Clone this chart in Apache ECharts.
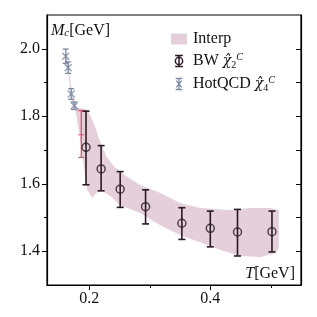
<!DOCTYPE html>
<html><head><meta charset="utf-8">
<script src="https://cdn.jsdelivr.net/npm/echarts@6/dist/echarts.min.js"></script>
<style>html,body{margin:0;padding:0;background:#fff}#c{width:317px;height:317px}</style>
</head><body><div id="c"></div>
<script>
// ---- data ----
const bwT  = [0.1945, 0.2195, 0.251, 0.293, 0.353, 0.400, 0.445, 0.502];
const bwM  = [1.708, 1.644, 1.584, 1.532, 1.483, 1.468, 1.457, 1.458];
const bwLo = [1.597, 1.579, 1.530, 1.481, 1.435, 1.413, 1.386, 1.398];
const bwHi = [1.815, 1.713, 1.636, 1.582, 1.529, 1.519, 1.524, 1.519];

const hqT   = [0.161, 0.165, 0.170, 0.175];
const hqM   = [1.978, 1.944, 1.866, 1.831];
const hqErr = [0.021, 0.017, 0.016, 0.011];

const redT  = [0.1867];
const redM  = [1.745];
const redLo = [1.678];
const redHi = [1.817];

const bandUpT = [0.160, 0.165, 0.170, 0.175, 0.180, 0.1967, 0.2083, 0.2167, 0.2283, 0.2417, 0.2583, 0.2833, 0.3167, 0.350, 0.3833, 0.4333, 0.4667, 0.500, 0.5133];
const bandUp  = [2.001, 1.962, 1.885, 1.849, 1.826, 1.820, 1.775, 1.730, 1.680, 1.650, 1.626, 1.597, 1.573, 1.543, 1.528, 1.522, 1.528, 1.528, 1.522];
const bandLoT = [0.160, 0.165, 0.170, 0.1767, 0.1833, 0.1917, 0.1967, 0.205, 0.2117, 0.2217, 0.2367, 0.250, 0.2833, 0.3167, 0.350, 0.3833, 0.4167, 0.450, 0.4833, 0.5083, 0.5133];
const bandLo  = [1.962, 1.933, 1.855, 1.820, 1.751, 1.641, 1.581, 1.558, 1.573, 1.579, 1.561, 1.537, 1.514, 1.478, 1.448, 1.427, 1.404, 1.386, 1.383, 1.395, 1.410];

const yMajor = [1.4, 1.6, 1.8, 2.0];
const yMinor = [1.5, 1.7, 1.9];
const yRight = [1.4, 1.5, 1.6, 1.7, 1.8, 1.9, 2.0];
const xMajor = [0.2, 0.4];
const xMinor = [0.3, 0.5];

// ---- styles ----
const FONT = 'Liberation Serif';
const cBand = '#e4cfdb';
const cBW = '#2b1a24';
const cHQ = '#7b8aa0';
const cRed = '#d9546e';

const chart = echarts.init(document.getElementById('c'), null, {renderer: 'canvas'});

function errBarSeries(name, T, lo, hi, color, capW, lw, midM) {
  return {
    type: 'custom', name: name, z: 3,
    data: T.map((t, i) => [t, lo[i], hi[i], midM ? midM[i] : null]),
    encode: {x: 0, y: [1, 2]},
    renderItem: function (params, api) {
      const a = api.coord([api.value(0), api.value(1)]);
      const b = api.coord([api.value(0), api.value(2)]);
      const st = {stroke: color, lineWidth: lw};
      const ch = [
        {type: 'line', shape: {x1: a[0], y1: a[1], x2: b[0], y2: b[1]}, style: st},
        {type: 'line', shape: {x1: a[0] - capW / 2, y1: a[1], x2: a[0] + capW / 2, y2: a[1]}, style: st},
        {type: 'line', shape: {x1: b[0] - capW / 2, y1: b[1], x2: b[0] + capW / 2, y2: b[1]}, style: st}
      ];
      if (midM) {
        const m = api.coord([api.value(0), api.value(3)]);
        ch.push({type: 'line', shape: {x1: m[0] - 3, y1: m[1], x2: m[0] + 3, y2: m[1]}, style: {stroke: color, lineWidth: 1}});
      }
      return {type: 'group', children: ch};
    }
  };
}

const bandSeries = {
  type: 'custom', name: 'Interp', z: 1, silent: true,
  data: bandUpT.map((t, i) => [t, bandUp[i]]),
  encode: {x: 0, y: 1},
  clip: true,
  renderItem: function (params, api) {
    if (params.dataIndex !== 0) return null;
    const pts = [];
    for (let i = 0; i < bandUpT.length; i++) pts.push(api.coord([bandUpT[i], bandUp[i]]));
    for (let i = bandLoT.length - 1; i >= 0; i--) pts.push(api.coord([bandLoT[i], bandLo[i]]));
    return {type: 'polygon', shape: {points: pts}, style: {fill: cBand}};
  }
};

const xPath = 'path://M0,0L10,10M10,0L0,10';

const option = {
  animation: false,
  backgroundColor: '#fff',
  textStyle: {fontFamily: FONT},
  grid: {left: 47, top: 15, right: 16, bottom: 32, show: true, borderColor: '#000', borderWidth: 1.2, backgroundColor: 'transparent'},
  legend: {
    show: true, orient: 'vertical', left: 171, top: 31, itemGap: 5, padding: 0,
    itemWidth: 16, itemHeight: 11,
    selectedMode: false,
    textStyle: {fontFamily: FONT, fontSize: 16, color: '#111', padding: [0, 0, 0, 1],
      rich: {
        t: {fontFamily: FONT, fontSize: 16, color: '#111'},
        m: {fontFamily: 'DejaVu Serif', fontSize: 14, fontStyle: 'italic', color: '#111'},
        sub: {fontFamily: FONT, fontSize: 10, color: '#111', padding: [8, 0, 0, 0]},
        sup: {fontFamily: FONT, fontSize: 10, fontStyle: 'italic', color: '#111', padding: [0, 0, 8, 0]}
      }},
    formatter: function (name) {
      if (name === 'Interp') return '{t|Interp}';
      if (name === 'BW') return '{t|BW }{m|χ̂}{sub|2}{sup|C}';
      return '{t|HotQCD }{m|χ̂}{sub|4}{sup|C}';
    },
    data: [
      {name: 'Interp', icon: 'rect', itemStyle: {color: cBand, borderWidth: 0}},
      {name: 'BW', icon: 'path://M0.5,0.5L7.5,0.5M4,0.5L4,10.5M0.5,10.5L7.5,10.5M4,2.2A3.3,3.3,0,1,0,4,8.8A3.3,3.3,0,1,0,4,2.2Z',
        itemStyle: {color: 'none', borderColor: cBW, borderWidth: 1.5}},
      {name: 'HotQCD', icon: 'path://M1,0.5L7,0.5M1,10.5L7,10.5M4,0.5L4,10.5M1.5,2.5L6.5,8.5M6.5,2.5L1.5,8.5',
        itemStyle: {color: 'none', borderColor: cHQ, borderWidth: 1.3}}
    ]
  },
  xAxis: [{
    type: 'value', min: 0.13, max: 0.55, position: 'bottom',
    name: '{i|T}[GeV]', nameLocation: 'end', nameGap: -6,
    nameTextStyle: {align: 'right', verticalAlign: 'bottom', fontFamily: FONT, fontSize: 16, color: '#111', padding: [0, 0, 3, 0],
      rich: {i: {fontFamily: FONT, fontSize: 16, fontStyle: 'italic', color: '#111'}}},
    axisLine: {show: true, onZero: false, lineStyle: {color: '#000', width: 1.2}},
    axisTick: {show: true, inside: false, length: 5, customValues: xMajor, lineStyle: {color: '#000', width: 1}},
    axisLabel: {show: true, customValues: xMajor, margin: 6, fontFamily: FONT, fontSize: 16, color: '#111',
      formatter: v => v.toFixed(1)},
    splitLine: {show: false}
  }, {
    type: 'value', min: 0.13, max: 0.55, position: 'bottom',
    axisLine: {show: false},
    axisTick: {show: true, inside: false, length: 3, customValues: xMinor, lineStyle: {color: '#000', width: 1}},
    axisLabel: {show: false},
    splitLine: {show: false}
  }],
  yAxis: [{
    type: 'value', min: 1.3, max: 2.1, position: 'left',
    name: '{i|M}{s|c}[GeV]', nameLocation: 'end', nameGap: -7,
    nameTextStyle: {align: 'left', verticalAlign: 'top', fontFamily: FONT, fontSize: 16, color: '#111', padding: [0, 0, 0, 4],
      rich: {i: {fontFamily: FONT, fontSize: 16, fontStyle: 'italic', color: '#111'},
             s: {fontFamily: FONT, fontSize: 11, fontStyle: 'italic', color: '#111', padding: [6, 0, 0, 0]}}},
    axisLine: {show: true, onZero: false, lineStyle: {color: '#000', width: 1.2}},
    axisTick: {show: true, inside: false, length: 5, customValues: yMajor, lineStyle: {color: '#000', width: 1}},
    axisLabel: {show: true, customValues: yMajor, margin: 7, fontFamily: FONT, fontSize: 16, color: '#111',
      formatter: v => v.toFixed(1)},
    splitLine: {show: false}
  }, {
    type: 'value', min: 1.3, max: 2.1, position: 'left',
    axisLine: {show: false},
    axisTick: {show: true, inside: false, length: 3, customValues: yMinor, lineStyle: {color: '#000', width: 1}},
    axisLabel: {show: false},
    splitLine: {show: false}
  }, {
    type: 'value', min: 1.3, max: 2.1, position: 'right',
    axisLine: {show: true, lineStyle: {color: '#000', width: 1.2}},
    axisTick: {show: true, inside: true, length: 5, customValues: yRight, lineStyle: {color: '#000', width: 1}},
    axisLabel: {show: false},
    splitLine: {show: false}
  }],
  series: [
    bandSeries,
    errBarSeries('HotQCD', hqT, hqM.map((m, i) => m - hqErr[i]), hqM.map((m, i) => m + hqErr[i]), cHQ, 6, 1.3),
    {
      type: 'scatter', name: 'HotQCD', z: 4,
      data: hqT.map((t, i) => [t, hqM[i]]),
      symbol: xPath, symbolSize: 7,
      itemStyle: {color: 'none', borderColor: cHQ, borderWidth: 1.4}
    },
    errBarSeries('red', redT, redLo, redHi, cRed, 6, 1.3, redM),
    errBarSeries('BW', bwT, bwLo, bwHi, cBW, 7, 1.6),
    {
      type: 'scatter', name: 'BW', z: 5,
      data: bwT.map((t, i) => [t, bwM[i]]),
      symbol: 'circle', symbolSize: 8,
      itemStyle: {color: 'rgba(255,255,255,0)', borderColor: cBW, borderWidth: 1.5}
    }
  ]
};
chart.setOption(option);
</script>
</body></html>
